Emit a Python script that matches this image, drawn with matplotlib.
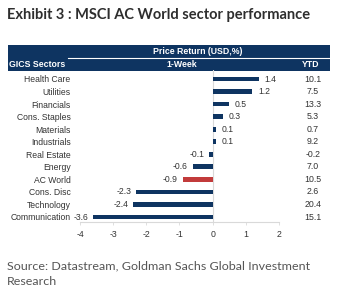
import matplotlib
matplotlib.use("Agg")
import matplotlib.pyplot as plt
from matplotlib.patches import Rectangle
import matplotlib.transforms as mtransforms

sectors = ["Health Care", "Utilities", "Financials", "Cons. Staples", "Materials",
           "Industrials", "Real Estate", "Energy", "AC World", "Cons. Disc",
           "Technology", "Communication"]
week = [1.4, 1.2, 0.5, 0.3, 0.1, 0.1, -0.1, -0.6, -0.9, -2.3, -2.4, -3.6]
ytd = [10.1, 7.5, 13.3, 5.3, 0.7, 9.2, -0.2, 7.0, 10.5, 2.6, 20.4, 15.1]
xticks = [-4, -3, -2, -1, 0, 1, 2]

W, H = 347, 292
NAVY = "#0e3461"
RED = "#c23b3b"
TXT = "#333333"
plt.rcParams['font.family'] = ['Liberation Sans', 'DejaVu Sans']

fig = plt.figure(figsize=(W / 100, H / 100), dpi=100)

def fx(x):
    return x / W

def fy(y):
    return 1 - y / H

# overlay axes in pixel coords
ov = fig.add_axes([0, 0, 1, 1])
ov.set_xlim(0, W)
ov.set_ylim(H, 0)
ov.axis("off")

# header box
ov.add_patch(Rectangle((8, 45), 322, 26, color=NAVY, lw=0))
ov.plot([68, 330], [57.5, 57.5], color="white", lw=0.8)
ov.text(198, 51.5, "Price Return (USD,%)", color="white", fontsize=6.3,
        fontweight="bold", ha="center", va="center")
ov.text(9, 64.5, "GICS Sectors", color="white", fontsize=6.3,
        fontweight="bold", ha="left", va="center")
ov.text(182, 64.5, "1-Week", color="white", fontsize=6.3,
        fontweight="bold", ha="center", va="center")
ov.text(311, 64.5, "YTD", color="white", fontsize=6.3,
        fontweight="bold", ha="center", va="center")

def fit_text(x, y, s, width_px, **kw):
    t = ov.text(x, y, s, **kw)
    fig.canvas.draw()
    r = fig.canvas.get_renderer()
    bb = t.get_window_extent(r)
    t.set_fontsize(t.get_fontsize() * width_px / bb.width)
    return t

narrow = ['Lato', 'Liberation Sans', 'DejaVu Sans']
fit_text(7, 18.5, "Exhibit 3 : MSCI AC World sector performance", 303,
         family=narrow, fontweight="bold", color="#2e2e2e", fontsize=12,
         ha="left", va="baseline")
src = fit_text(7, 269, "Source: Datastream, Goldman Sachs Global Investment", 301,
               family=narrow, color="#555555", fontsize=10, ha="left", va="baseline")
ov.text(7, 285, "Research", family=narrow, color="#555555",
        fontsize=src.get_fontsize(), ha="left", va="baseline")

# data axes
x0, x1 = 80, 279
top, bot = 70, 222
ax = fig.add_axes([fx(x0), fy(bot), fx(x1 - x0), (bot - top) / H])
n = len(sectors)
rowh = (217 - 79) / (n - 1)
ax.set_ylim((bot - 79) / rowh, (top - 79) / rowh)
ax.set_xlim(xticks[0], xticks[-1])

colors = [RED if s == "AC World" else NAVY for s in sectors]
ax.barh(range(n), week, height=0.38, color=colors, zorder=3)
ax.axvline(0, color="#d9d9d9", lw=0.8, zorder=1)

for i, v in enumerate(week):
    ax.annotate(f"{v:.1f}", (v, i), xytext=(4 if v >= 0 else -3.5, 0),
                textcoords="offset points", ha="left" if v >= 0 else "right",
                va="center", fontsize=6.2, color=TXT)

blend = mtransforms.blended_transform_factory(ov.transData, ax.transData)
for i, v in enumerate(ytd):
    fig.text(313, i, f"{v:.1f}", transform=blend, ha="center", va="center",
             fontsize=6.3, color=TXT)

ax.set_yticks(range(n))
ax.set_yticklabels(sectors, fontsize=6.2, color=TXT)
ax.tick_params(axis="y", length=0, pad=6.8)
ax.set_xticks(xticks)
ax.set_xticklabels([str(t) for t in xticks], fontsize=6.3, color=TXT)
ax.tick_params(axis="x", length=2, width=0.6, color="#d9d9d9", pad=3.5)
for s in ["top", "right", "left"]:
    ax.spines[s].set_visible(False)
ax.spines["bottom"].set_color("#d9d9d9")
ax.spines["bottom"].set_linewidth(0.8)
ax.patch.set_alpha(0)

fig.savefig("out.png", dpi=100)
